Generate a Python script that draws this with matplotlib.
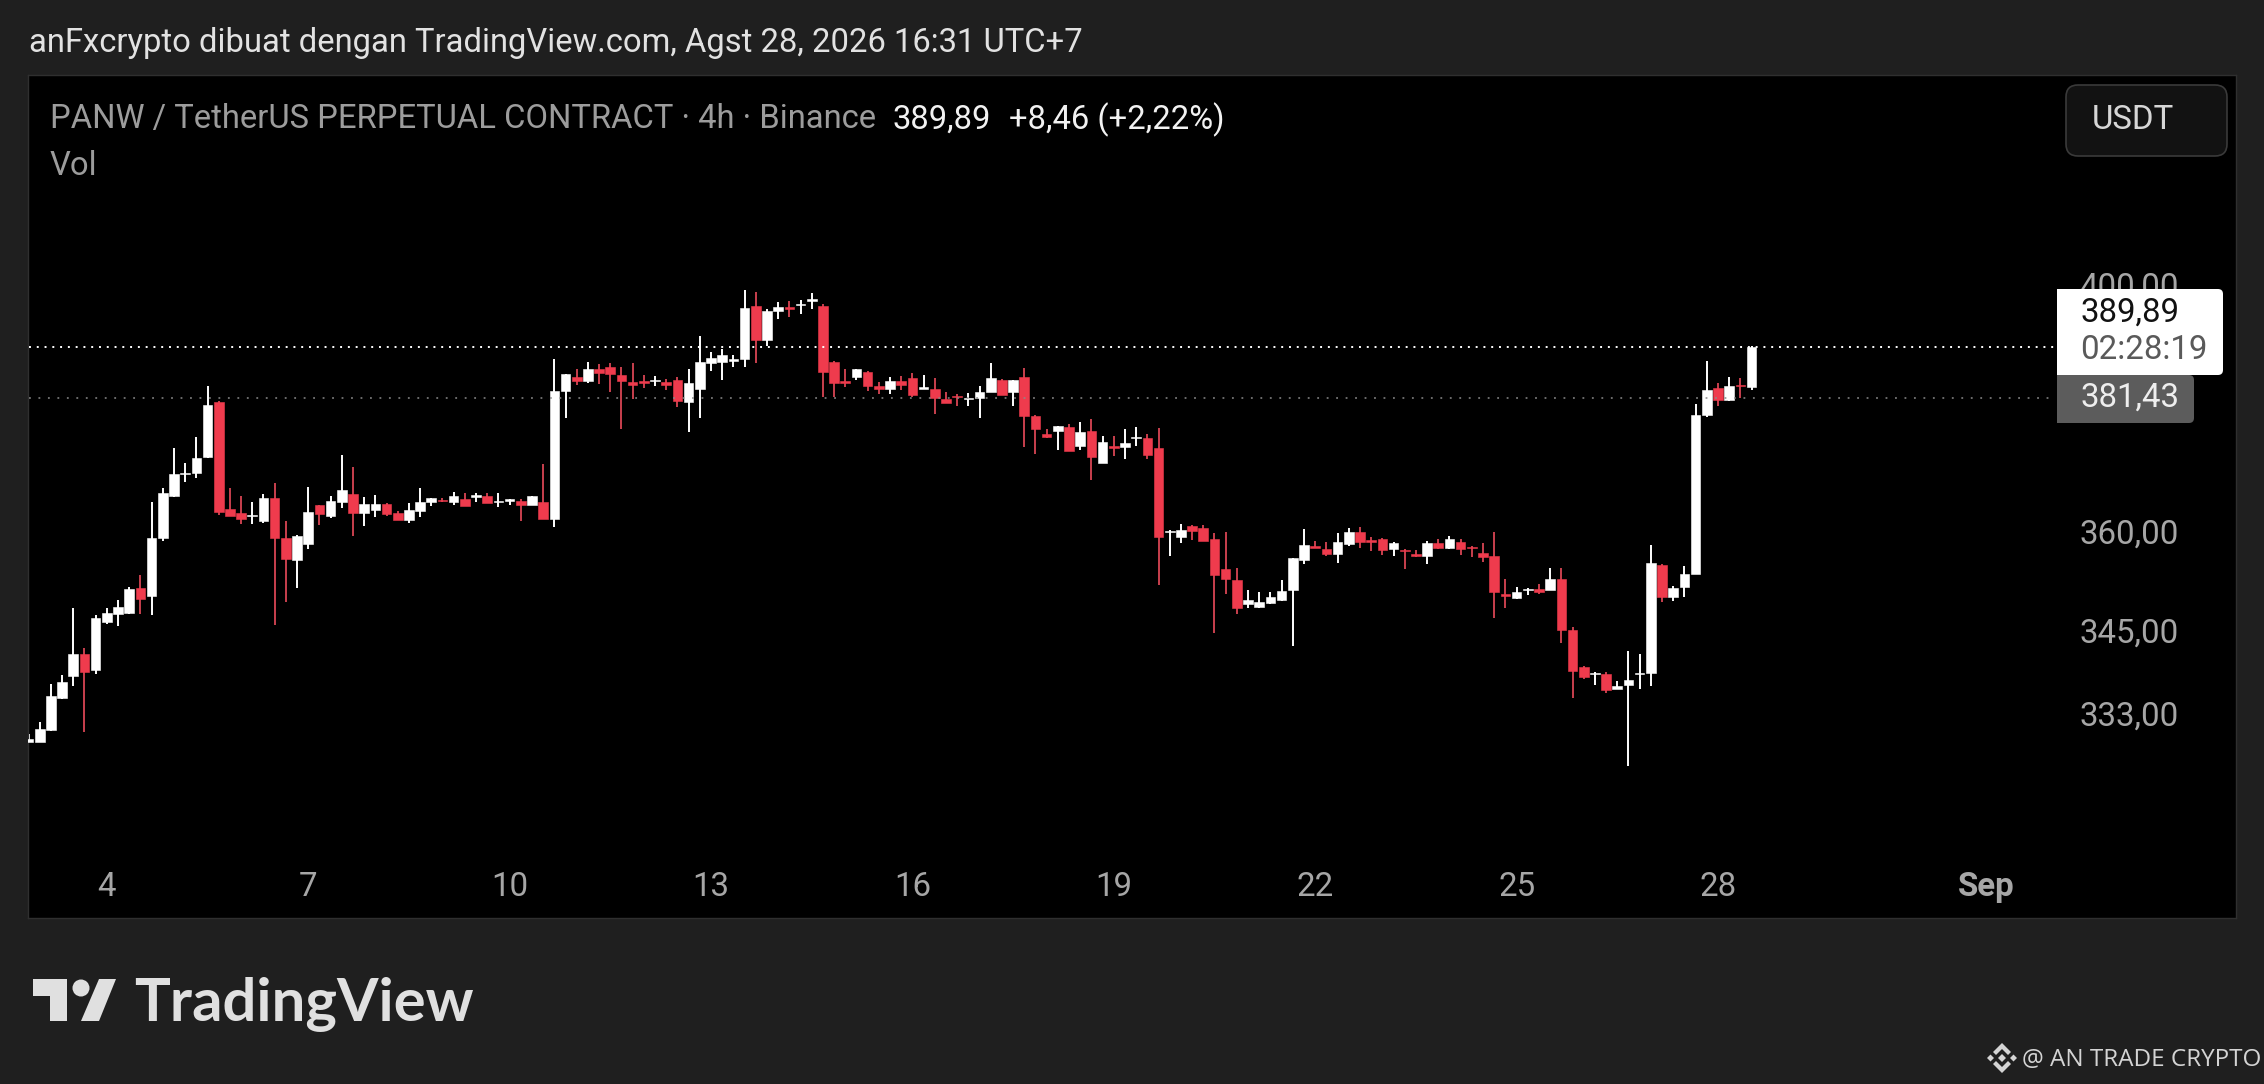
"""PANW/USDT perp 4h candles, TradingView dark export."""
import matplotlib
matplotlib.use("Agg")
import matplotlib.pyplot as plt
from matplotlib.patches import Circle, FancyBboxPatch, Polygon, Rectangle
from matplotlib.ticker import NullLocator
from matplotlib.transforms import Affine2D

plt.rcParams["font.family"] = ["Roboto", "DejaVu Sans"]

W, H = 2264, 1084
BG = "#1f1f1f"
PANE = "#000000"
RED = "#ef3b4d"
RED_WICK = "#c9404e"
GREY = "#a6a6a6"

# 4h candles, oldest first
opens = [329.4, 329.4, 331.0, 335.6, 338.7, 342.0, 339.6, 346.7, 347.9, 348.0,
         351.7, 350.5, 359.3, 365.8, 369.3, 369.4, 372.0, 380.8, 363.8, 363.2,
         362.7, 361.9, 365.5, 359.3, 356.0, 358.4, 364.4, 362.7, 364.9, 366.1,
         363.2, 363.7, 364.6, 363.2, 362.1, 363.5, 364.9, 365.2, 364.9, 365.4,
         365.7, 365.8, 364.9, 365.1, 365.1, 364.4, 364.9, 362.3, 382.6, 385.0,
         384.2, 386.3, 386.6, 385.3, 384.1, 384.3, 384.2, 384.1, 384.5, 380.8,
         383.0, 387.3, 387.4, 387.6, 387.9, 396.8, 391.0, 395.9, 396.6, 396.9,
         397.7, 396.8, 387.4, 384.3, 385.0, 385.8, 383.5, 383.0, 384.3, 384.8,
         383.0, 383.0, 381.3, 381.8, 381.3, 381.5, 382.5, 384.5, 382.5, 385.0,
         378.6, 375.6, 376.2, 376.8, 373.7, 376.2, 371.0, 373.7, 373.6, 375.0,
         375.0, 373.4, 360.2, 359.5, 361.2, 360.9, 359.2, 354.6, 353.0, 349.3,
         348.9, 349.5, 349.9, 351.4, 356.0, 358.1, 357.6, 356.9, 358.4, 360.3,
         359.0, 359.2, 357.6, 357.5, 356.9, 356.6, 358.6, 357.8, 358.7, 358.0,
         357.0, 356.6, 350.8, 350.2, 351.4, 351.6, 351.4, 353.1, 345.5, 340.1,
         339.0, 339.1, 336.9, 337.5, 339.0, 339.2, 355.2, 350.4, 351.9, 353.9,
         378.7, 383.1, 381.2, 383.6, 383.3]
highs = [330.5, 332.1, 337.6, 338.9, 348.7, 342.9, 347.7, 348.7, 349.9, 351.9,
         353.7, 364.9, 367.1, 373.4, 371.0, 375.2, 383.5, 381.0, 367.1, 365.8,
         364.9, 366.1, 367.9, 362.0, 359.8, 367.2, 364.5, 365.8, 372.3, 370.4,
         365.7, 366.0, 364.8, 363.5, 364.8, 367.1, 365.6, 365.5, 366.5, 366.3,
         366.3, 366.3, 366.3, 365.4, 365.4, 365.9, 370.9, 387.9, 385.5, 386.3,
         387.4, 387.1, 387.3, 386.6, 387.3, 385.3, 385.1, 384.6, 385.0, 386.3,
         391.7, 389.1, 389.6, 388.6, 399.5, 399.2, 396.3, 397.4, 397.6, 397.8,
         399.0, 397.1, 387.6, 386.3, 386.3, 385.9, 384.1, 385.0, 385.1, 385.6,
         385.3, 384.8, 382.5, 382.2, 382.3, 383.5, 387.3, 384.6, 384.5, 386.4,
         378.7, 376.5, 377.0, 377.3, 377.6, 378.1, 375.4, 375.4, 376.5, 376.8,
         375.7, 376.7, 360.6, 361.5, 361.3, 361.3, 360.1, 360.3, 354.8, 351.4,
         351.1, 351.1, 353.0, 356.3, 360.7, 358.9, 358.7, 360.1, 360.9, 361.0,
         359.5, 359.3, 358.7, 357.6, 357.5, 358.9, 359.2, 359.7, 359.2, 358.1,
         358.6, 360.3, 353.1, 351.9, 351.7, 352.4, 354.8, 354.8, 345.9, 340.2,
         339.3, 339.4, 338.1, 342.4, 342.0, 358.3, 355.3, 352.0, 355.1, 380.5,
         387.6, 384.0, 385.0, 384.8, 390.0]
lows = [329.3, 329.3, 330.9, 335.5, 337.3, 330.7, 339.0, 346.3, 346.1, 347.9,
        347.9, 347.7, 358.9, 365.7, 368.1, 368.7, 371.9, 362.9, 362.7, 361.5,
        361.5, 361.7, 346.2, 349.6, 351.7, 357.6, 361.3, 362.4, 364.0, 359.7,
        361.2, 362.6, 362.7, 362.1, 361.7, 362.6, 364.3, 364.9, 364.4, 364.3,
        364.9, 364.7, 364.1, 364.4, 362.0, 364.4, 362.2, 361.0, 378.3, 383.6,
        384.0, 383.8, 382.5, 376.5, 381.3, 383.1, 383.5, 382.8, 380.0, 376.0,
        378.3, 385.9, 384.5, 386.6, 386.6, 387.3, 390.1, 394.6, 394.9, 395.4,
        396.3, 381.7, 381.7, 383.3, 384.5, 382.6, 382.1, 382.1, 382.8, 381.7,
        383.0, 378.9, 380.6, 380.2, 380.2, 378.3, 382.4, 381.9, 380.2, 373.6,
        372.5, 375.0, 373.1, 372.9, 373.1, 368.4, 371.0, 372.2, 371.7, 373.7,
        371.7, 352.2, 356.6, 358.6, 359.0, 358.9, 345.1, 350.8, 347.9, 348.7,
        348.7, 349.4, 349.8, 343.1, 355.4, 357.8, 356.6, 355.5, 358.1, 357.8,
        357.3, 356.7, 356.6, 354.6, 356.5, 355.4, 357.7, 357.6, 356.7, 356.4,
        355.7, 347.3, 348.7, 350.1, 350.7, 350.9, 351.4, 343.6, 335.6, 338.3,
        337.5, 336.3, 336.9, 326.0, 336.9, 337.3, 349.6, 349.8, 350.4, 353.8,
        378.4, 380.2, 381.0, 381.5, 382.8]
closes = [329.8, 331.2, 335.9, 337.9, 342.0, 339.4, 347.3, 348.0, 348.9, 351.6,
          350.1, 359.3, 366.3, 369.3, 369.5, 371.8, 380.4, 363.4, 362.8, 362.3,
          362.9, 365.5, 359.3, 356.1, 359.7, 363.4, 363.0, 365.0, 366.8, 363.2,
          364.6, 364.6, 363.0, 362.1, 363.7, 364.9, 365.5, 365.0, 365.8, 364.3,
          366.0, 364.8, 365.1, 365.3, 364.4, 365.8, 362.3, 382.6, 385.4, 384.3,
          386.3, 385.6, 385.4, 384.3, 383.6, 383.9, 384.5, 383.6, 381.0, 384.0,
          387.4, 388.1, 388.6, 387.9, 396.4, 391.0, 395.9, 396.6, 396.3, 397.1,
          397.9, 385.8, 384.0, 384.0, 386.3, 383.5, 383.0, 384.3, 383.6, 382.0,
          383.3, 381.5, 380.7, 381.6, 381.5, 382.5, 384.8, 382.0, 384.5, 378.6,
          376.5, 375.2, 377.0, 373.0, 376.0, 372.0, 374.4, 373.5, 374.2, 375.2,
          372.3, 359.5, 360.4, 360.6, 360.4, 358.9, 353.7, 353.1, 348.7, 349.9,
          349.6, 350.4, 351.3, 356.3, 358.3, 357.8, 356.9, 358.7, 360.3, 358.7,
          358.7, 357.5, 358.6, 357.3, 356.6, 358.6, 357.8, 359.2, 357.6, 357.8,
          356.4, 351.1, 350.6, 351.1, 351.6, 351.1, 353.1, 345.5, 339.5, 338.6,
          339.2, 336.7, 337.3, 338.2, 339.2, 355.5, 350.4, 351.7, 353.9, 378.7,
          382.8, 381.2, 383.5, 383.4, 389.89]

price_ticks = [400, 360, 345, 333]
price_tick_labels = ["400,00", "360,00", "345,00", "333,00"]
date_ticks = [7, 25, 43, 61, 79, 97, 115, 133, 151, 175]
date_tick_labels = ["4", "7", "10", "13", "16", "19", "22", "25", "28", "Sep"]
last_price = 389.89
prev_close = 381.43

fig = plt.figure(figsize=(W / 100, H / 100), dpi=100, facecolor=BG)
# pixel coordinates with y going down, for the chrome around the chart
PX = Affine2D().scale(1, -1).translate(0, H)

ax = fig.add_axes([28 / W, (H - 918) / H, 2208 / W, 843 / H], facecolor=PANE)
ax.set_yscale("log")
ax.set_xlim(-0.045, 197.3)
ax.set_ylim(305.48, 437.95)

xs = list(range(len(closes)))
up = [c >= o for o, c in zip(opens, closes)]
ax.vlines(xs, lows, highs, colors=["white" if u else RED_WICK for u in up],
          linewidth=1.4, zorder=2)
ax.bar(xs, [abs(c - o) for o, c in zip(opens, closes)],
       bottom=[min(o, c) for o, c in zip(opens, closes)], width=0.86,
       color=["white" if u else RED for u in up],
       edgecolor=["white" if u else RED for u in up], linewidth=0.4, zorder=3)

ax.hlines(last_price, 0, 181, colors="white", linewidth=1.4,
          linestyles=(0, (1, 3)), zorder=4)
ax.hlines(prev_close, 0, 181, colors="#8a8a8a", linewidth=1.1,
          linestyles=(0, (1.2, 5)), zorder=4)

ax.yaxis.tick_right()
ax.yaxis.set_minor_locator(NullLocator())
ax.set_yticks(price_ticks, labels=price_tick_labels)
ax.tick_params(axis="y", length=0, pad=-111.6, labelsize=23.8, labelcolor=GREY)
ax.set_xticks(date_ticks, labels=date_tick_labels)
ax.tick_params(axis="x", length=0, pad=-34, labelsize=23.8, labelcolor=GREY)
ax.get_xticklabels()[-1].set_fontweight("bold")
# scale labels sit a touch above and left of their price level
for t in ax.get_yticklabels():
    t.set_transform(t.get_transform() + Affine2D().translate(-1.5, 3))
for s in ax.spines.values():
    s.set_color("#2f2f2f")
    s.set_linewidth(1)


def label(x, y, s, color, size=23.6, z=8, **kw):
    fig.text(x, y, s, color=color, fontsize=size, transform=PX, va="center", zorder=z, **kw)


def box(x, y, w, h, face, edge="none", r=5, z=5):
    fig.add_artist(FancyBboxPatch((x, y), w, h, boxstyle=f"round,pad=0,rounding_size={r}",
                                  facecolor=face, edgecolor=edge, linewidth=1.2,
                                  transform=PX, zorder=z))


label(29, 43, "anFxcrypto dibuat dengan TradingView.com, Agst 28, 2026 16:31 UTC+7", "#e2e2e2")
label(50, 119.5, "PANW / TetherUS PERPETUAL CONTRACT · 4h · Binance", "#9c9c9c")
label(893, 119.5, "389,89", "#f2f2f2")
label(1009, 119.5, "+8,46 (+2,22%)", "#f2f2f2")
label(50, 166, "Vol", "#9c9c9c")

box(2066, 85, 161, 71, "#121212", "#3a3a3a", r=12)
label(2092, 120, "USDT", "#d6d6d6", 23.8)

# last price / previous close flags on the price scale
box(2057, 375, 137, 48, "#5c5c5c", z=5)
fig.add_artist(Rectangle((2057, 375), 12, 48, facecolor="#5c5c5c", transform=PX, zorder=5))
box(2057, 289, 166, 86, "white", z=6)
fig.add_artist(Rectangle((2057, 289), 12, 86, facecolor="white", transform=PX, zorder=6))
label(2080, 313, "389,89", "#111111", 23.8)
label(2080, 350, "02:28:19", "#5a5a5a", 23.8)
label(2080, 398, "381,43", "#eeeeee", 23.8)

# TradingView logo
LOGO = "#e0e0e0"
for pts in ([(33, 979), (67, 979), (67, 1021), (50, 1021), (50, 996), (33, 996)],
            [(99, 979), (116, 979), (99, 1021), (81, 1021)]):
    fig.add_artist(Polygon(pts, closed=True, facecolor=LOGO, transform=PX))
fig.add_artist(Circle((81, 988), 8.5, facecolor=LOGO, transform=PX))
fig.text(134, 1021, "TradingView", color=LOGO, fontsize=43, fontfamily="Lato",
         fontweight="bold", transform=PX, va="baseline")

# watermark
MARK = "#d4d4d4"
cx, cy = 2002, 1058
for pts in ([(cx - 9, cy - 6), (cx, cy - 15), (cx + 9, cy - 6), (cx + 6, cy - 3), (cx, cy - 9), (cx - 6, cy - 3)],
            [(cx - 9, cy + 6), (cx, cy + 15), (cx + 9, cy + 6), (cx + 6, cy + 3), (cx, cy + 9), (cx - 6, cy + 3)],
            [(cx - 15, cy), (cx - 11.5, cy - 3.5), (cx - 8, cy), (cx - 11.5, cy + 3.5)],
            [(cx + 15, cy), (cx + 11.5, cy - 3.5), (cx + 8, cy), (cx + 11.5, cy + 3.5)],
            [(cx - 4, cy), (cx, cy - 4), (cx + 4, cy), (cx, cy + 4)]):
    fig.add_artist(Polygon(pts, closed=True, facecolor=MARK, transform=PX))
fig.text(2022, 1060, "@ AN TRADE CRYPTO", color=MARK, fontsize=17.5, fontfamily="Open Sans",
         transform=PX, va="center")

fig.savefig("out.png", dpi=100, facecolor=BG)
